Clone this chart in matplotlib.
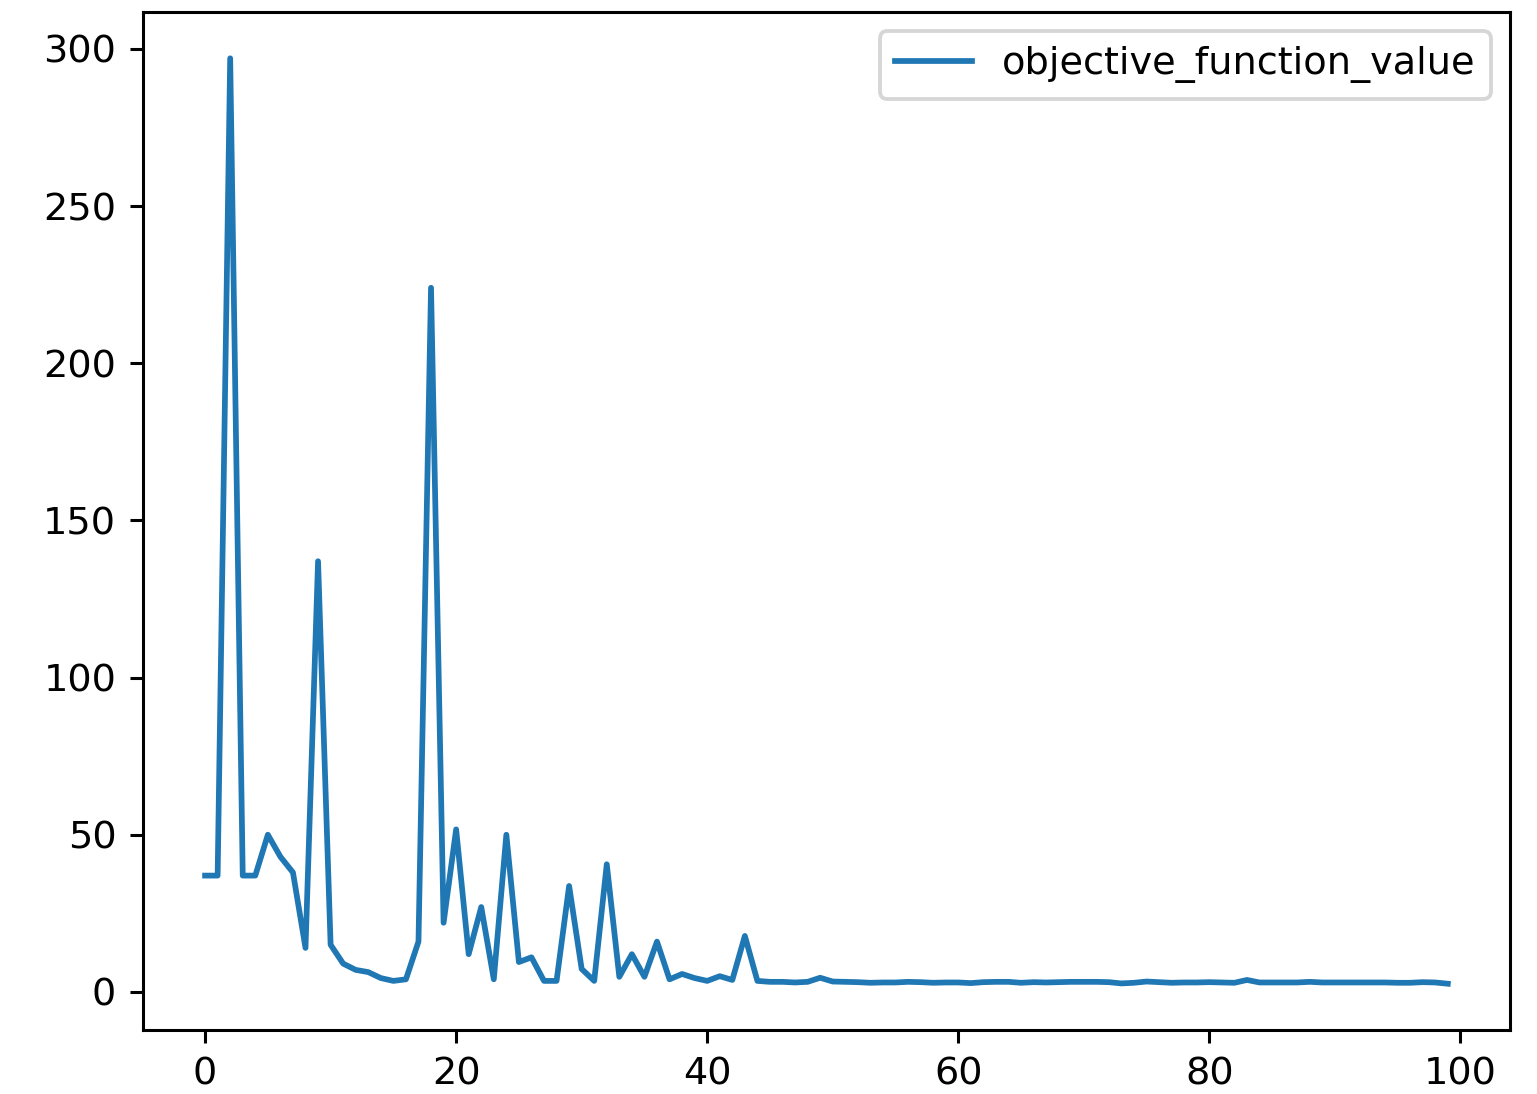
import matplotlib
matplotlib.use("Agg")
import matplotlib.pyplot as plt
import pandas as pd

# objective value per iteration
head = [37, 37, 297, 37, 37, 50, 43, 38, 14, 137,
        15, 9, 7, 6.3, 4.4, 3.5, 4, 16, 224, 22,
        51.7, 12, 27, 4, 50, 9.5, 11, 3.5, 3.5, 33.7,
        7.3, 3.5, 40.6, 4.8, 12, 4.8, 16, 4, 5.7, 4.4,
        3.5, 5, 3.8, 17.8]
tail = [3.5, 3.2, 3.2, 3.0, 3.2, 4.5, 3.3, 3.2, 3.1, 2.9,
        3.0, 3.0, 3.2, 3.1, 2.9, 3.0, 3.0, 2.8, 3.1, 3.2,
        3.2, 2.9, 3.1, 3.0, 3.1, 3.2, 3.2, 3.2, 3.1, 2.7,
        2.9, 3.3, 3.1, 2.9, 3.0, 3.0, 3.1, 3.0, 2.9, 3.8,
        3.0, 3.0, 3.0, 3.0, 3.2, 3.0, 3.0, 3.0, 3.0, 3.0,
        3.0, 2.9, 2.9, 3.1, 3.0, 2.6]

df = pd.DataFrame({"objective_function_value": head + tail})

fig, ax = plt.subplots(figsize=(1537 / 275, 1094 / 275), dpi=275)
fig.subplots_adjust(left=0.093, right=0.9824, top=0.989, bottom=0.0585)
df.plot(ax=ax)
ax.legend(loc="upper right")
fig.savefig("out.png", dpi=275)
